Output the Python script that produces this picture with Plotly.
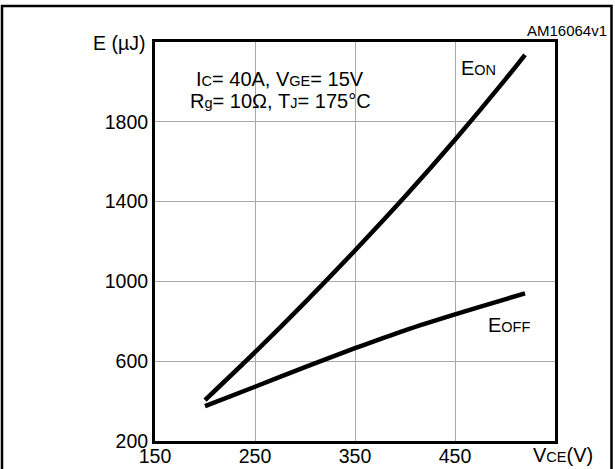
import plotly.graph_objects as go

# ---- data ----
vce = [200, 250, 300, 350, 400, 450, 500, 520]
e_on = [405, 645, 895, 1155, 1425, 1710, 2010, 2136]
e_off = [375, 472, 570, 665, 755, 835, 910, 940]

x_tickvals = [150, 250, 350, 450]
x_ticktext = ["150", "250", "350", "450"]
y_tickvals = [200, 600, 1000, 1400, 1800]
y_ticktext = ["200", "600", "1000", "1400", "1800"]

W, H = 615, 469
ML, MR, MT, MB = 155, 60, 42, 28
PW, PH = W - ML - MR, H - MT - MB


def px(x):
    return (x - ML) / PW


def py(y):
    return (H - MB - y) / PH


FONT = "Liberation Sans, Arial, Helvetica, sans-serif"
SMALL = "<span style='font-size:14.5px'>{}</span>"

fig = go.Figure()
for vals in (e_on, e_off):
    fig.add_trace(go.Scatter(
        x=vce, y=vals, mode="lines",
        line=dict(color="black", width=4.5, shape="spline", smoothing=0.8),
        hoverinfo="skip", showlegend=False,
    ))

axis_common = dict(
    showline=True, linewidth=3, linecolor="black", mirror=True,
    showgrid=True, gridcolor="#a8a8a8", gridwidth=1, automargin=False,
    zeroline=False, ticks="", tickfont=dict(family=FONT, size=19.5, color="black"),
)
fig.update_xaxes(range=[150, 550], tickvals=x_tickvals, ticktext=x_ticktext,
                 ticklabelstandoff=-4, **axis_common)
fig.update_yaxes(range=[200, 2200], tickvals=y_tickvals, ticktext=y_ticktext, **axis_common)

shapes = [
    # white box behind the condition text (hides grid lines)
    dict(type="rect", xref="paper", yref="paper", x0=px(180), x1=px(386), y0=py(119), y1=py(66),
         fillcolor="white", line=dict(width=0), layer="between"),
    # outer figure frame
    dict(type="rect", xref="paper", yref="paper", x0=px(2), x1=px(611.5), y0=py(520), y1=py(6),
         fillcolor="rgba(0,0,0,0)", line=dict(color="black", width=2.5), layer="above"),
]

ann_font = dict(family=FONT, size=20, color="black")
annotations = [
    dict(text="E (µJ)", x=px(147), y=py(43), xanchor="right", yanchor="middle",
         font=dict(family=FONT, size=19.5, color="black")),
    dict(text="AM16064v1", x=px(609), y=py(30), xanchor="right", yanchor="middle",
         font=dict(family=FONT, size=15, color="black")),
    dict(text="V" + SMALL.format("CE") + "(V)", x=px(563), y=py(455), xanchor="center", yanchor="middle",
         font=ann_font),
    dict(text="I" + SMALL.format("C") + "= 40A, V" + SMALL.format("GE") + "= 15V",
         x=px(280), y=py(79), xanchor="center", yanchor="middle", font=ann_font),
    dict(text="R" + SMALL.format("g") + "= 10Ω, T" + SMALL.format("J") + "= 175°C",
         x=px(280), y=py(101), xanchor="center", yanchor="middle", font=ann_font),
    dict(text="E" + SMALL.format("ON"), x=px(478.5), y=py(68), xanchor="center", yanchor="middle",
         font=ann_font),
    dict(text="E" + SMALL.format("OFF"), x=px(509), y=py(325), xanchor="center", yanchor="middle",
         font=ann_font),
]
for a in annotations:
    a.update(xref="paper", yref="paper", showarrow=False)

fig.update_layout(
    width=W, height=H,
    margin=dict(l=ML, r=MR, t=MT, b=MB, pad=0, autoexpand=False),
    paper_bgcolor="white", plot_bgcolor="white",
    shapes=shapes, annotations=annotations,
    font=dict(family=FONT, color="black"),
    showlegend=False,
)

fig.write_html(
    "out.html",
    config={"displayModeBar": False},
    post_script="document.body.style.margin='0';document.body.style.overflow='hidden';",
)
